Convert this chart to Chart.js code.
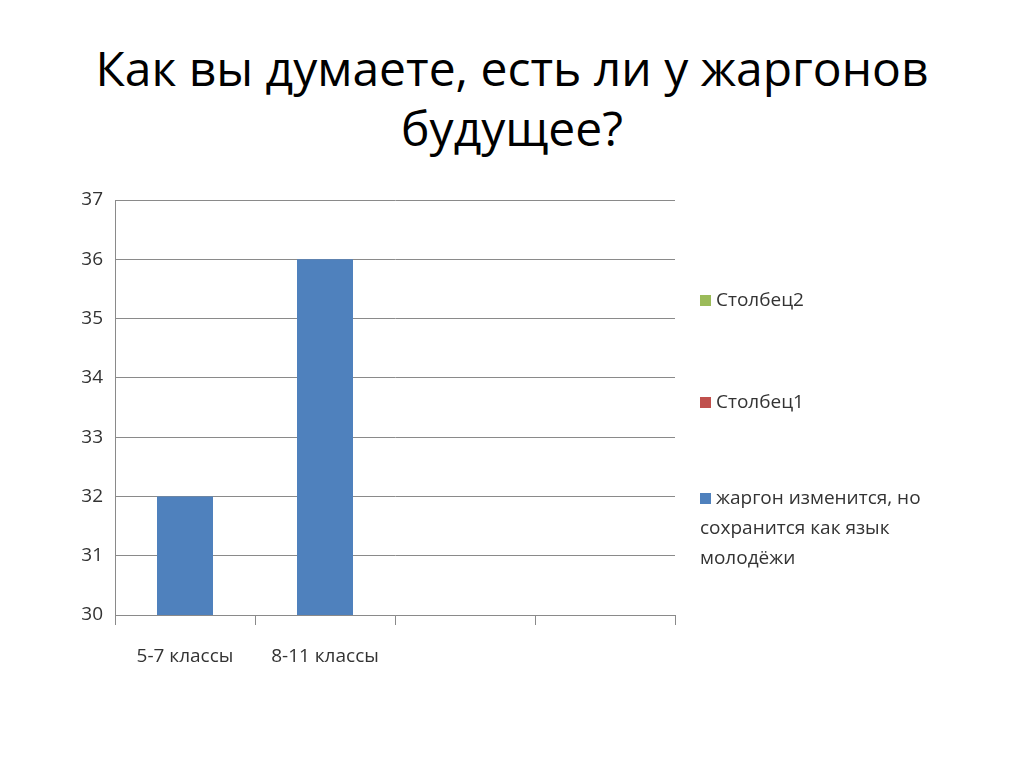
<!DOCTYPE html>
<html><head><meta charset="utf-8">
<script src="https://cdn.jsdelivr.net/npm/chart.js@4"></script>
<style>
body{margin:0;width:1024px;height:767px;background:#fff;font-family:"Open Sans",sans-serif;position:relative;overflow:hidden}
#title{position:absolute;left:0;top:38px;width:1024px;text-align:center;font-size:48px;line-height:60px;color:#000}
#c{position:absolute;left:0;top:0}
.leg{position:absolute;left:700px;font-size:19px;color:#333;line-height:30px}
.sw{display:inline-block;width:11px;height:11px;margin-right:5px}
</style></head><body>
<div id="title">Как вы думаете, есть ли у жаргонов<br>будущее?</div>
<canvas id="c" width="1024" height="767"></canvas>
<div id="legend"></div>
<script>
const categories=["5-7 классы","8-11 классы","",""];
const seriesName="жаргон изменится, но сохранится  как язык молодёжи";
const values=[32,36,null,null];
const legendNames=["Столбец2","Столбец1",["жаргон изменится, но","сохранится  как язык","молодёжи"]];
const legendColors=["#9bbb59","#c0504d","#4f81bd"];
const legendTops=[284,386,482];
const yMin=30,yMax=37;

const lg=document.getElementById('legend');
legendNames.forEach((n,i)=>{
  const d=document.createElement('div');d.className='leg';d.style.top=legendTops[i]+'px';
  const lines=Array.isArray(n)?n:[n];
  d.innerHTML='<span class="sw" style="background:'+legendColors[i]+'"></span>'+lines[0]+lines.slice(1).map(l=>'<br>'+l).join('');
  lg.appendChild(d);
});

new Chart(document.getElementById('c'),{
 type:'bar',
 data:{labels:categories,datasets:[{label:seriesName,data:values,backgroundColor:'#4f81bd',barPercentage:0.4,categoryPercentage:1}]},
 options:{responsive:false,animation:false,
  layout:{padding:{left:0,top:200,right:349,bottom:0}},
  plugins:{legend:{display:false},tooltip:{enabled:false}},
  scales:{
   y:{min:yMin,max:yMax,ticks:{stepSize:1,color:'#333',font:{size:19,family:'Open Sans'},padding:12},
      grid:{color:'#8a8a8a',tickLength:0},border:{color:'#8a8a8a'},
      afterFit:s=>{s.width=115;}},
   x:{offset:true,grid:{offset:true,drawOnChartArea:false,tickLength:10,color:'#8a8a8a'},border:{color:'#8a8a8a'},
      ticks:{color:'#333',font:{size:19,family:'Open Sans'},padding:20,maxRotation:0},
      afterFit:s=>{s.height=152;}}
  }}
});
</script></body></html>
